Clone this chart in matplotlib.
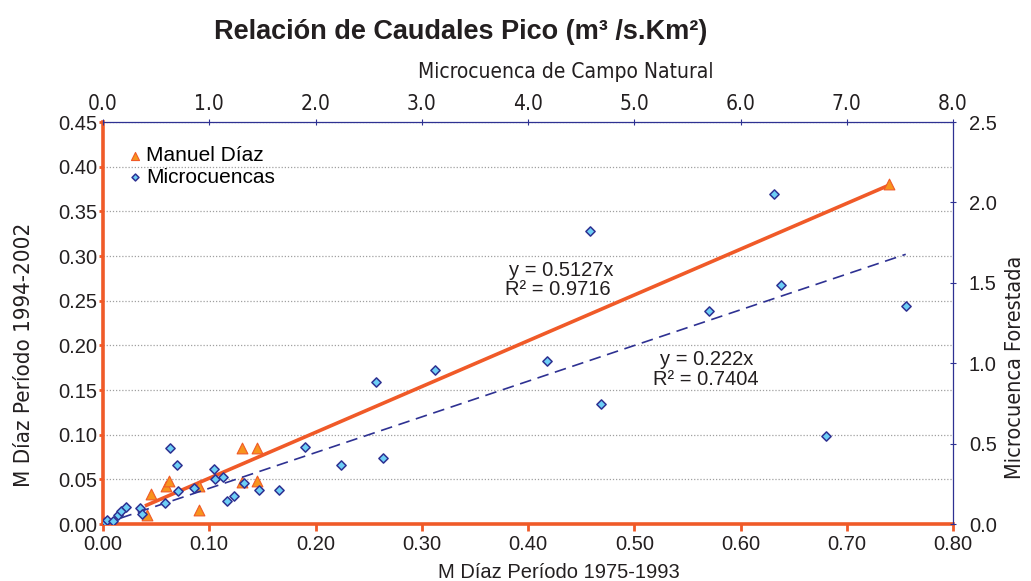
import matplotlib.pyplot as plt
import numpy as np

# Manuel Díaz series (primary axes: bottom / left)
md_x = [0.041, 0.0455, 0.059, 0.062, 0.090, 0.090, 0.1305, 0.1305, 0.1447, 0.1447, 0.740]
md_y = [0.010, 0.034, 0.0425, 0.048, 0.0425, 0.016, 0.0847, 0.047, 0.0847, 0.048, 0.381]

# Microcuencas series (secondary axes: top / right)
mc_x = [0.00, 0.02, 0.04, 0.09, 0.14, 0.17, 0.22, 0.35, 0.37, 0.58, 0.63, 0.70,
        0.71, 0.86, 1.045, 1.055, 1.13, 1.17, 1.235, 1.33, 1.47, 1.66, 1.90,
        2.24, 2.565, 2.635, 3.125, 4.18, 4.58, 4.685, 5.705, 6.315, 6.38, 6.80,
        7.555]
mc_y = [0.00, 0.01, 0.025, 0.021, 0.056, 0.083, 0.106, 0.098, 0.060, 0.129, 0.475,
        0.367, 0.205, 0.222, 0.340, 0.280, 0.292, 0.143, 0.174, 0.253, 0.211,
        0.211, 0.481, 0.365, 0.885, 0.409, 0.958, 1.016, 1.822, 0.746, 1.325,
        2.054, 1.488, 0.549, 1.358]

# Trendline slopes (forced through origin)
md_slope = 0.5127
md_r2 = 0.9716
mc_slope = 0.222
mc_r2 = 0.7404

bottom_ticks = np.arange(0, 0.81, 0.1)
left_ticks = np.arange(0, 0.451, 0.05)
top_ticks = np.arange(0, 8.1, 1.0)
right_ticks = np.arange(0, 2.51, 0.5)

orange = '#F05A28'
tri_fill = '#F7941D'
navy = '#2E3192'
dia_fill = '#6DCFF6'
ink = '#231F20'

plt.rcParams['font.family'] = ['Liberation Sans', 'DejaVu Sans']
# condensed face for the narrow axis titles
narrow = dict(family='DejaVu Sans', stretch='condensed')

fig = plt.figure(figsize=(10.31, 5.81), dpi=100)
pos = [103 / 1031, 1 - 524 / 581, 850 / 1031, 402 / 581]

# Primary axes
ax = fig.add_axes(pos)
ax.set_xlim(0, 0.8)
ax.set_ylim(0, 0.45)
ax.set_xticks(bottom_ticks)
ax.set_yticks(left_ticks)
ax.set_xticklabels([f"{v:.2f}" for v in bottom_ticks], fontsize=14.5, color=ink)
ax.set_yticklabels([f"{v:.2f}" for v in left_ticks], fontsize=14.5, color=ink)
ax.yaxis.grid(True, color='#A0A0A0', linestyle=(0, (1, 1.5)), linewidth=0.9)
ax.set_axisbelow(True)
for s in ['top', 'right']:
    ax.spines[s].set_visible(False)
for s in ['left', 'bottom']:
    ax.spines[s].set_color(orange)
    ax.spines[s].set_linewidth(2.6)
ax.tick_params(axis='x', direction='out', length=5, width=2, color=orange, pad=3)
ax.tick_params(axis='y', direction='out', length=3, width=2, color=orange, pad=1)

ax.set_xlabel("M Díaz Período 1975-1993", fontsize=14.5, color=ink)
ax.set_ylabel("M Díaz Período 1994-2002", fontsize=16, color=ink, **narrow)
ax.xaxis.set_label_coords(0.536, -0.098)
ax.yaxis.set_label_coords(-0.081, 0.42)

md_line_x = np.array([min(md_x), max(md_x)])
ax.plot(md_line_x, md_slope * md_line_x, color=orange, linewidth=2.6, zorder=3)
tri = ax.scatter(md_x, md_y, marker='^', s=60, facecolor=tri_fill,
                 edgecolor=orange, linewidth=0.8, zorder=4, label='Manuel Díaz')

# Secondary axes
ax2 = fig.add_axes(pos, facecolor='none')
ax2.set_xlim(0, 8)
ax2.set_ylim(0, 2.5)
ax2.xaxis.tick_top()
ax2.xaxis.set_label_position('top')
ax2.yaxis.tick_right()
ax2.yaxis.set_label_position('right')
ax2.set_xticks(top_ticks)
ax2.set_yticks(right_ticks)
ax2.set_xticklabels([f"{v:.1f}" for v in top_ticks], fontsize=15, color=ink, **narrow)
ax2.set_yticklabels([f"{v:.1f}" for v in right_ticks], fontsize=14.5, color=ink)
for s in ['left', 'bottom']:
    ax2.spines[s].set_visible(False)
for s in ['top', 'right']:
    ax2.spines[s].set_color(navy)
    ax2.spines[s].set_linestyle((0, (1, 1)))
    ax2.spines[s].set_linewidth(0.9)
ax2.tick_params(axis='both', direction='inout', length=5, width=0.8, color=navy)
ax2.tick_params(axis='x', pad=3)
ax2.tick_params(axis='y', pad=9)
ax2.set_xlabel("Microcuenca de Campo Natural", fontsize=15, color=ink, **narrow)
ax2.set_ylabel("Microcuenca Forestada", fontsize=15.5, color=ink, **narrow)
ax2.xaxis.set_label_coords(0.545, 1.11)
ax2.yaxis.set_label_coords(1.061, 0.39)

mc_line_x = np.array([0, max(mc_x)])
ax2.plot(mc_line_x, mc_slope * mc_line_x, color=navy, linewidth=1.2,
         linestyle=(0, (7, 4)), zorder=3)
dia = ax2.scatter(mc_x, mc_y, marker='D', s=22, facecolor=dia_fill,
                  edgecolor=navy, linewidth=1.1, zorder=5, label='Microcuencas')

# Trendline equations
ax.text(0.431, 0.284, f"y = {md_slope}x", fontsize=14.5, ha='center',
        va='center', color=ink)
ax.text(0.428, 0.263, f"R² = {md_r2}", fontsize=14.5, ha='center',
        va='center', color=ink)
ax2.text(5.68, 1.02, f"y = {mc_slope}x", fontsize=14.5, ha='center',
         va='center', color=ink)
ax2.text(5.67, 0.9, f"R² = {mc_r2}", fontsize=14.5, ha='center',
         va='center', color=ink)

ax2.legend(handles=[tri, dia], loc='upper left', bbox_to_anchor=(0.019, 0.965),
           frameon=False, fontsize=15, handlelength=0.5, handletextpad=0.3,
           labelspacing=0.1, borderpad=0, markerscale=0.75)

fig.text(0.447, 0.945, "Relación de Caudales Pico (m³ /s.Km²)", fontsize=19.5,
         fontweight='bold', ha='center', va='center', color=ink)

fig.savefig('out.png', dpi=100)
